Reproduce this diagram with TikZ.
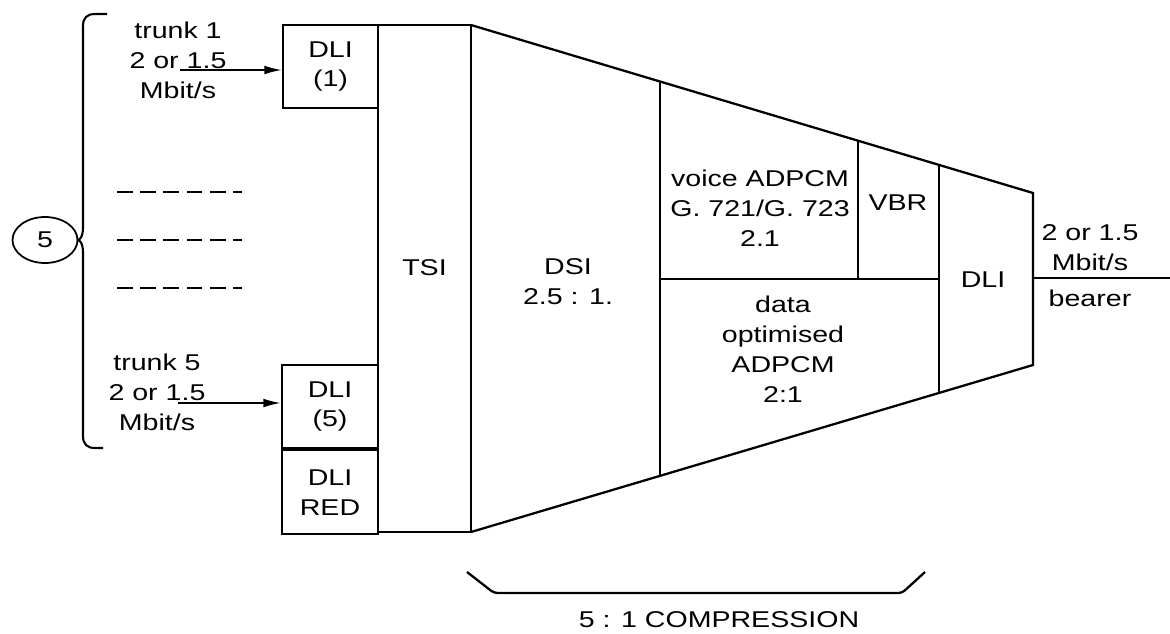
\documentclass[tikz,border=0pt]{standalone}
\usepackage{fontspec}
\setmainfont{Liberation Sans}[FakeStretch=1.25]
\usetikzlibrary{arrows.meta, shapes.geometric, calc}

\tikzset{
  bloc/.style={draw, line width=1.3pt, inner sep=0pt, align=center},
  texte/.style={align=center, inner sep=0pt},
  fleche/.style={line width=1pt, -{Latex[length=10pt,width=5pt]}},
  trait/.style={line width=1.3pt},
}

\begin{document}
\begin{tikzpicture}[x=0.02cm, y=-0.02cm, font=\fontsize{13}{17}\selectfont]
    \useasboundingbox (0,0) rectangle (1170,633);

    % Cercle et accolade
    \node[draw, ellipse, line width=1pt, inner sep=0pt, minimum width=1.3cm, minimum height=0.92cm] (nb) at (45,240) {5};
    \draw[line width=1.2pt] (107,14) -- (95,14) .. controls (87,14) and (83,18) .. (83,26) -- (83,226)
        .. controls (83,234) and (82,238) .. (nb.east) .. controls (82,242) and (83,246) .. (83,254)
        -- (83,436) .. controls (83,444) and (87,448) .. (95,448) -- (103,448);

    % Troncs
    \node[texte] (tra) at (178,60) {trunk 1\\2 or 1.5\\Mbit/s};
    \node[texte] (tre) at (157,392) {trunk 5\\2 or 1.5\\Mbit/s};
    \foreach \y in {192,240,288} {
        \draw[line width=1pt, dash pattern=on 9pt off 4.2pt] (117,\y) -- (242,\y);
    }

    % Blocs DLI et TSI
    \node[bloc, minimum width=1.9cm, minimum height=1.66cm] (dlia) at (330.5,66.5) {DLI\\(1)};
    \node[bloc, minimum width=1.92cm, minimum height=1.66cm] (dlie) at (330,406.5) {DLI\\(5)};
    \node[bloc, minimum width=1.92cm, minimum height=1.68cm, anchor=north] (dlired) at (dlie.south) {DLI\\RED};
    \node[bloc, minimum width=1.86cm, minimum height=10.14cm] (tsi) at (424.5,278.5) {};
    \node[texte] (tsitxt) at (424.5,268) {TSI};

    % Fleches d'entree
    \coordinate (ea) at (180,70);
    \coordinate (ee) at (178,403);
    \draw[fleche] (ea) -- (ea -| dlia.west);
    \draw[fleche] (ee) -- (ee -| dlie.west);

    % Trapeze de compression
    \coordinate (hg) at (471,25);
    \coordinate (hd) at (1033,193);
    \coordinate (bd) at (1033,365);
    \coordinate (bg) at (471,532);
    \coordinate (mil) at (0,279);
    \draw[trait] (hg) -- (hd) -- (bd) -- (bg);
    \coordinate (ha) at ($(hg)!0.336!(hd)$);
    \coordinate (ba) at ($(bg)!0.336!(bd)$);
    \coordinate (hb) at ($(hg)!0.689!(hd)$);
    \coordinate (hc) at ($(hg)!0.833!(hd)$);
    \coordinate (bc) at ($(bg)!0.833!(bd)$);
    \draw[trait] (ha) -- (ba);
    \draw[trait] (hc) -- (bc);
    \draw[trait] (hb) -- (hb |- mil);
    \draw[trait] (ha |- mil) -- (hc |- mil);

    % Textes du trapeze
    \node[texte] (dsi) at (568,282) {DSI\\2.5 : 1.};
    \node[texte] (voix) at (760,208) {voice ADPCM\\G. 721/G. 723\\2.1};
    \node[texte] (vbr) at (898,203) {VBR};
    \node[texte] (donnees) at (783,349) {data\\optimised\\ADPCM\\2:1};
    \node[texte] (dlis) at (983,280) {DLI};

    % Sortie
    \coordinate (sortie) at (1170,278);
    \draw[trait] (sortie -| hd) -- (sortie);
    \node[texte] (debit) at (1090,248) {2 or 1.5\\Mbit/s};
    \node[texte] (porteuse) at (1090,298) {bearer};

    % Accolade du bas
    \draw[trait, rounded corners=2pt] (467,572) -- (494,593) -- (902,593) -- (925,572);
    \node[texte] (compr) at (719,620) {5 : 1 COMPRESSION};
\end{tikzpicture}
\end{document}
